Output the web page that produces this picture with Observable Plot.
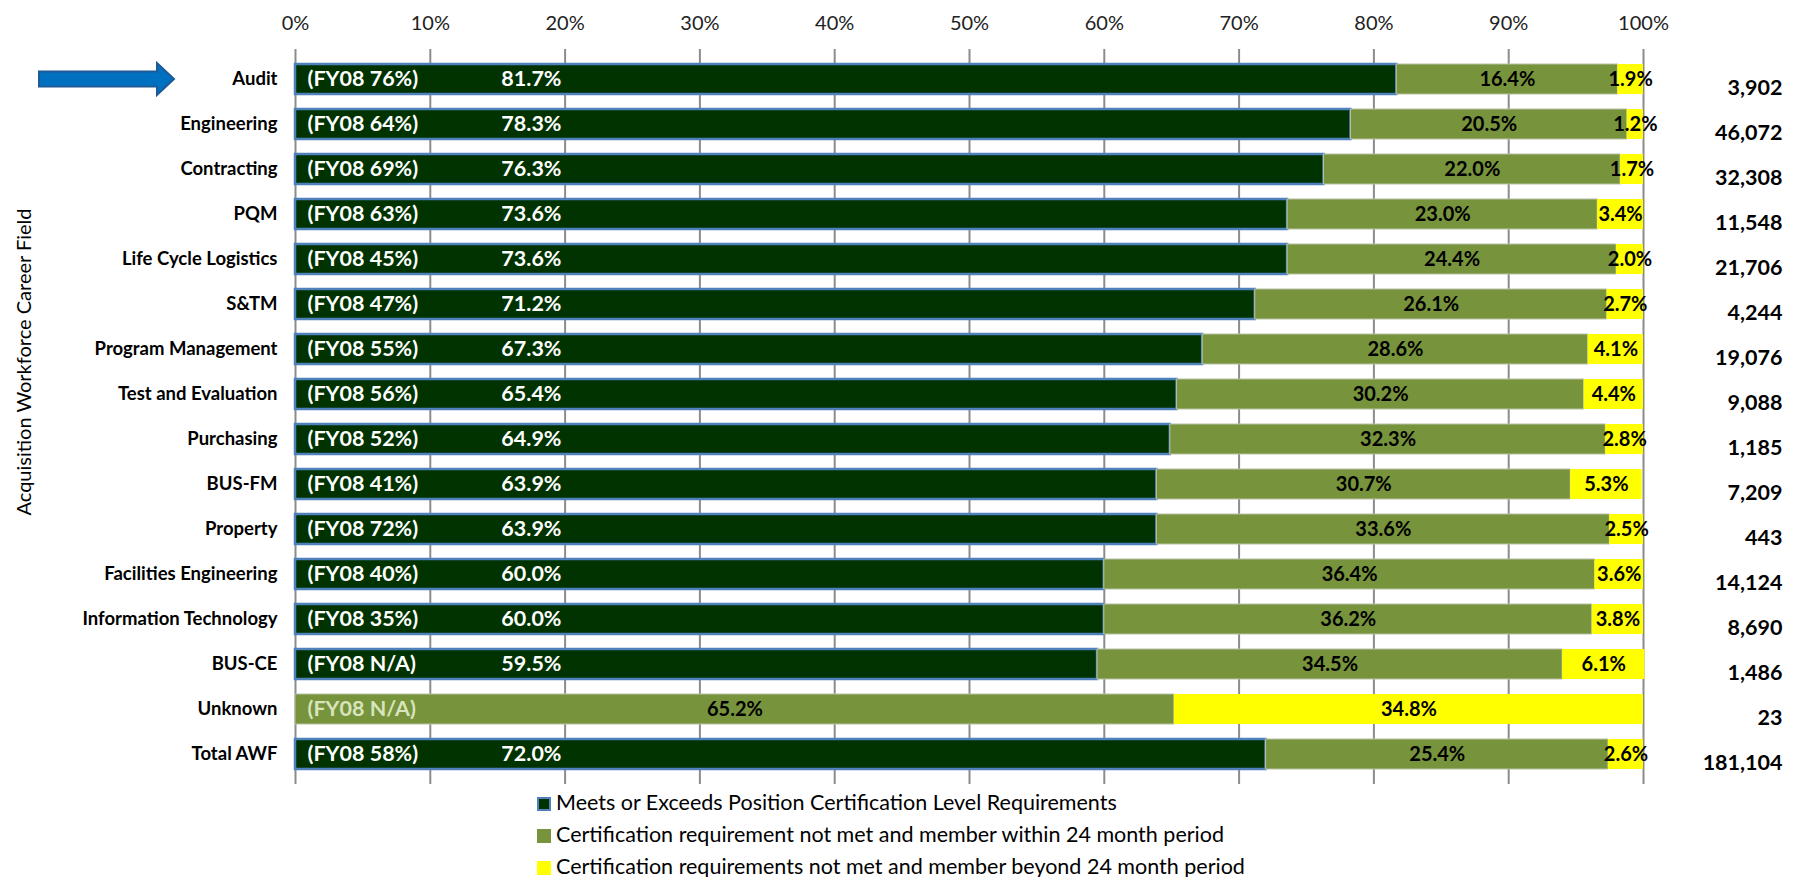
<!DOCTYPE html>
<html>
<head>
<meta charset="utf-8">
<script src="https://cdn.jsdelivr.net/npm/d3@7"></script>
<script src="https://cdn.jsdelivr.net/npm/@observablehq/plot@0.6"></script>
<style>
  body { margin: 0; background: #fff; font-family: Lato, "Open Sans", sans-serif; overflow: hidden; }
  #legend { margin-left: 537px; margin-top: -4px; font-size: 21.5px; line-height: 32px; color: #000; }
  #legend .sw { display: inline-block; width: 14px; height: 14px; margin-right: 5px; vertical-align: -1px; box-sizing: border-box; }
</style>
</head>
<body>
<div id="chart"></div>
<div id="legend"></div>
<script>
const categories = ["Audit","Engineering","Contracting","PQM","Life Cycle Logistics","S&TM","Program Management","Test and Evaluation","Purchasing","BUS-FM","Property","Facilities Engineering","Information Technology","BUS-CE","Unknown","Total AWF"];
const meets   = [81.7,78.3,76.3,73.6,73.6,71.2,67.3,65.4,64.9,63.9,63.9,60.0,60.0,59.5,0,72.0];
const within  = [16.4,20.5,22.0,23.0,24.4,26.1,28.6,30.2,32.3,30.7,33.6,36.4,36.2,34.5,65.2,25.4];
const beyond  = [1.9,1.2,1.7,3.4,2.0,2.7,4.1,4.4,2.8,5.3,2.5,3.6,3.8,6.1,34.8,2.6];
const fy08    = ["76%","64%","69%","63%","45%","47%","55%","56%","52%","41%","72%","40%","35%","N/A","N/A","58%"];
const counts  = ["3,902","46,072","32,308","11,548","21,706","4,244","19,076","9,088","1,185","7,209","443","14,124","8,690","1,486","23","181,104"];
const seriesNames = [
  "Meets or Exceeds Position Certification Level Requirements",
  "Certification requirement not met and member within 24 month period",
  "Certification requirements not met and member beyond 24 month period"
];
const xTicks = [0,10,20,30,40,50,60,70,80,90,100];
const colors = ["#003300","#77933C","#FFFF00"];
const yTitle = "Acquisition Workforce Career Field";

const segs = [];
categories.forEach((c, i) => {
  [meets[i], within[i], beyond[i]].forEach((v, s) => {
    if (v > 0) segs.push({cat: c, series: seriesNames[s], value: v, s});
  });
});
const rows = categories.map((c, i) => ({
  cat: c, meets: meets[i], within: within[i], beyond: beyond[i],
  midWithin: meets[i] + within[i] / 2,
  midBeyond: meets[i] + within[i] + beyond[i] / 2,
  fy: "(FY08 " + fy08[i] + ")", count: counts[i]
}));

const FONT = "Lato, 'Open Sans', sans-serif";
const chart = Plot.plot({
  width: 1798,
  height: 790,
  marginLeft: 295,
  marginRight: 155,
  marginTop: 49,
  marginBottom: 6,
  style: {fontFamily: FONT, background: "#fff"},
  x: {domain: [0, 100], axis: null},
  y: {domain: categories, range: [41, 792], padding: 0.33, axis: null},
  color: {domain: seriesNames, range: colors},
  marks: [
    Plot.ruleX(xTicks, {stroke: "#8c8c8c", strokeWidth: 2}),
    Plot.axisX({anchor: "top", ticks: xTicks, tickSize: 0, tickPadding: 20, tickFormat: d => d + "%", fontSize: 20, fill: "#222"}),
    Plot.axisY({anchor: "left", tickSize: 0, tickPadding: 18, fontSize: 18.5, fontWeight: "bold", fill: "#000", label: null}),
    Plot.barX(segs, Plot.stackX({
      y: "cat", x: "value", fill: "series", order: seriesNames,
      stroke: d => d.s === 0 ? "#4F81BD" : (d.s === 1 ? "#b9c2a6" : "none"),
      strokeWidth: d => d.s === 0 ? 2.5 : 1
    })),
    Plot.text(rows, {y: "cat", x: 0, text: "fy", textAnchor: "start", dx: 12,
      fill: d => d.meets > 0 ? "#fff" : "#d7e4bd", fontSize: 21.5, fontWeight: "bold"}),
    Plot.text(rows.filter(d => d.meets > 0), {y: "cat", x: 17.5, text: d => d.meets.toFixed(1) + "%",
      fill: "#fff", fontSize: 21.5, fontWeight: "bold"}),
    Plot.text(rows, {y: "cat", x: "midWithin", text: d => d.within.toFixed(1) + "%",
      fill: "#000", fontSize: 20, fontWeight: "bold"}),
    Plot.text(rows, {y: "cat", x: "midBeyond", text: d => d.beyond.toFixed(1) + "%",
      fill: "#000", fontSize: 20, fontWeight: "bold"}),
    Plot.text(rows, {y: "cat", text: "count", frameAnchor: "right", textAnchor: "end", dx: 139, dy: 9,
      fill: "#000", fontSize: 21.5, fontWeight: "bold"})
  ]
});

const svg = d3.select(chart);
// y-axis title
svg.append("text")
  .attr("transform", "translate(24,362) rotate(-90)")
  .attr("text-anchor", "middle").attr("dy", "0.35em")
  .attr("font-family", FONT).attr("font-size", 20).attr("fill", "#000")
  .text(yTitle);

// arrow annotation pointing to the highlighted (first) category
const yS = chart.scale("y");
const yc = yS.apply(categories[0]) + yS.bandwidth / 2;
const ax0 = 39, ax1 = 157, ax2 = 174, sh = 7.5, hh = 16;
svg.append("path")
  .attr("d", `M${ax0},${yc - sh}L${ax1},${yc - sh}L${ax1},${yc - hh}L${ax2},${yc}L${ax1},${yc + hh}L${ax1},${yc + sh}L${ax0},${yc + sh}Z`)
  .attr("fill", "#0070C0").attr("stroke", "#1F5A96").attr("stroke-width", 2).attr("stroke-linejoin", "miter");

document.getElementById("chart").appendChild(chart);

const legend = document.getElementById("legend");
seriesNames.forEach((n, i) => {
  const div = document.createElement("div");
  const sw = document.createElement("span");
  sw.className = "sw";
  sw.style.background = colors[i];
  if (i === 0) sw.style.border = "2px solid #4F81BD";
  div.appendChild(sw);
  div.appendChild(document.createTextNode(n));
  legend.appendChild(div);
});
</script>
</body>
</html>
